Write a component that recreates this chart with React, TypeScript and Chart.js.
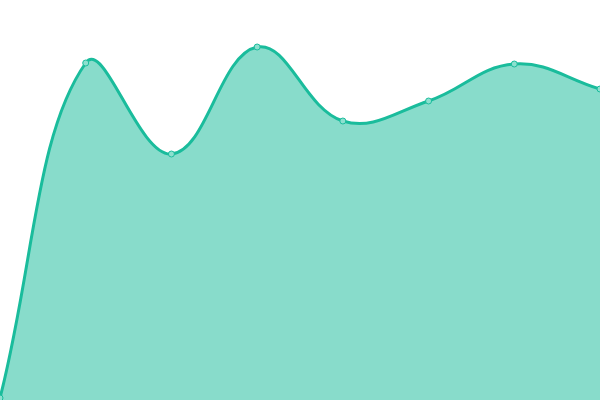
import { useEffect, useRef } from "react";
import Chart from "chart.js/auto";

// Categorias e valores da série
const labels = ["1", "2", "3", "4", "5", "6", "7", "8"];
const values = [0.5, 84.25, 61.5, 88.25, 69.75, 74.75, 84, 77.75];
const yMin = 0;
const yMax = 100;

export default function App() {
  const chartRef = useRef<HTMLCanvasElement | null>(null);
  const chartInstanceRef = useRef<Chart | null>(null);

  useEffect(() => {
    if (chartInstanceRef.current) {
      chartInstanceRef.current.destroy();
    }
    if (chartRef.current) {
      chartInstanceRef.current = new Chart(chartRef.current, {
        type: "line",
        data: {
          labels,
          datasets: [
            {
              data: values,
              borderColor: "#1abc9c",
              backgroundColor: "rgba(26, 188, 156, 0.52)",
              borderWidth: 3,
              fill: "origin",
              tension: 0.4,
              pointRadius: 3,
              pointBorderWidth: 1,
              pointBackgroundColor: "#8de0cf",
              pointBorderColor: "#1abc9c",
            },
          ],
        },
        options: {
          animation: false,
          responsive: false,
          maintainAspectRatio: false,
          layout: { padding: 0, autoPadding: false },
          plugins: { legend: { display: false }, tooltip: { enabled: false } },
          scales: {
            x: { display: false, offset: false },
            y: { display: false, min: yMin, max: yMax },
          },
        },
      });
    }
    return () => {
      if (chartInstanceRef.current) {
        chartInstanceRef.current.destroy();
        chartInstanceRef.current = null;
      }
    };
  }, []);

  return (
    <div style={{ position: "fixed", top: 0, left: 0, width: 600, height: 400, background: "#fff" }}>
      <canvas ref={chartRef} width={600} height={400} style={{ width: 600, height: 400 }}></canvas>
    </div>
  );
}
